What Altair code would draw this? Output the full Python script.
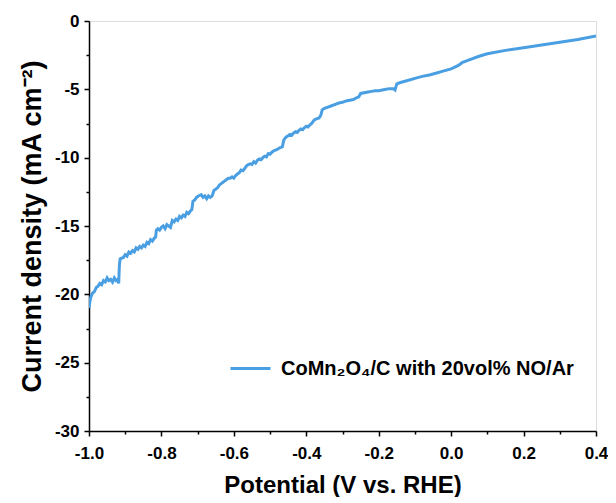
import altair as alt
import pandas as pd

potential = [
    -1.000, -0.998, -0.995, -0.990, -0.985, -0.980, -0.975, -0.970, -0.965, -0.960,
    -0.955, -0.950, -0.945, -0.940, -0.935, -0.930, -0.925, -0.920, -0.918, -0.916,
    -0.914, -0.905, -0.900, -0.895, -0.890, -0.885, -0.880, -0.875, -0.870, -0.865,
    -0.860, -0.855, -0.850, -0.845, -0.840, -0.835, -0.830, -0.825, -0.820, -0.816,
    -0.814, -0.810, -0.805, -0.800, -0.795, -0.790, -0.785, -0.780, -0.775, -0.770,
    -0.765, -0.760, -0.755, -0.750, -0.745, -0.740, -0.735, -0.730, -0.725, -0.720,
    -0.716, -0.713, -0.708, -0.703, -0.698, -0.690, -0.685, -0.680, -0.675, -0.670,
    -0.665, -0.660, -0.655, -0.650, -0.645, -0.640, -0.635, -0.630, -0.625, -0.620,
    -0.615, -0.610, -0.605, -0.600, -0.595, -0.590, -0.585, -0.580, -0.575, -0.570,
    -0.565, -0.560, -0.555, -0.550, -0.545, -0.540, -0.535, -0.530, -0.525, -0.520,
    -0.515, -0.510, -0.505, -0.500, -0.495, -0.490, -0.485, -0.480, -0.475, -0.470,
    -0.466, -0.462, -0.456, -0.450, -0.445, -0.440, -0.435, -0.430, -0.425, -0.420,
    -0.415, -0.410, -0.405, -0.400, -0.395, -0.390, -0.385, -0.380, -0.375, -0.370,
    -0.365, -0.360, -0.356, -0.350, -0.340, -0.330, -0.320, -0.310, -0.300, -0.290,
    -0.280, -0.270, -0.260, -0.255, -0.250, -0.240, -0.230, -0.220, -0.210, -0.200,
    -0.190, -0.180, -0.170, -0.160, -0.155, -0.150, -0.140, -0.120, -0.100, -0.080,
    -0.060, -0.040, -0.020, 0.000, 0.020, 0.030, 0.050, 0.075, 0.100, 0.150,
    0.200, 0.250, 0.300, 0.350, 0.400,
]
current = [
    -21.0, -20.6, -20.2, -19.9, -19.8, -19.5, -19.4, -19.2, -19.3, -19.0,
    -19.1, -18.8, -19.0, -18.9, -19.1, -18.8, -19.0, -18.9, -19.2, -17.8,
    -17.4, -17.3, -17.1, -17.2, -16.9, -17.0, -16.8, -16.9, -16.6, -16.7,
    -16.5, -16.6, -16.4, -16.5, -16.2, -16.3, -16.0, -16.1, -15.9, -15.8,
    -15.3, -15.2, -15.3, -15.1, -15.0, -15.2, -14.9, -15.0, -15.1, -14.6,
    -14.7, -14.5, -14.6, -14.3, -14.4, -14.2, -14.3, -14.0, -14.1, -13.9,
    -13.8, -13.2, -13.1, -12.9, -12.8, -12.7, -12.9, -12.8, -13.0, -12.8,
    -12.9, -12.8, -12.4, -12.3, -12.2, -12.0, -11.9, -11.8, -11.7, -11.6,
    -11.5, -11.5, -11.4, -11.5, -11.3, -11.2, -11.1, -10.9, -10.95, -10.8,
    -10.6, -10.5, -10.45, -10.5, -10.3, -10.4, -10.2, -10.1, -10.15, -10.0,
    -9.9, -9.95, -9.7, -9.75, -9.6, -9.5, -9.45, -9.4, -9.3, -9.25,
    -9.2, -8.7, -8.5, -8.4, -8.3, -8.35, -8.2, -8.1, -8.15, -8.0,
    -7.9, -7.95, -7.8, -7.7, -7.75, -7.6, -7.5, -7.3, -7.2, -7.15,
    -7.1, -6.9, -6.5, -6.4, -6.3, -6.2, -6.1, -6.0, -5.95, -5.85,
    -5.8, -5.75, -5.6, -5.55, -5.3, -5.25, -5.2, -5.15, -5.1, -5.1,
    -5.05, -5.0, -4.95, -4.95, -5.05, -4.6, -4.5, -4.35, -4.2, -4.05,
    -3.95, -3.8, -3.65, -3.5, -3.25, -3.05, -2.85, -2.6, -2.4, -2.15,
    -1.95, -1.75, -1.55, -1.35, -1.1,
]
series_name = "CoMn₂O₄/C with 20vol% NO/Ar"
x_major = [-1.0, -0.8, -0.6, -0.4, -0.2, 0.0, 0.2, 0.4]
x_minor = [-0.9, -0.7, -0.5, -0.3, -0.1, 0.1, 0.3]
y_major = [0, -5, -10, -15, -20, -25, -30]
y_minor = [-2.5, -7.5, -12.5, -17.5, -22.5, -27.5]

df = pd.DataFrame({"E": potential, "j": current, "s": [series_name] * len(potential)})

FONT = "Liberation Sans"
HYPHEN = "replace(datum.label, '\u2212', '-')"
xscale = alt.Scale(domain=[-1.0, 0.4], nice=False, zero=False)
yscale = alt.Scale(domain=[-30, 0], nice=False, zero=False)

main = alt.Chart(df).mark_line(strokeWidth=3, clip=True).encode(
    x=alt.X("E:Q", scale=xscale, axis=alt.Axis(
        values=x_major, format=".1f", labelExpr=HYPHEN, title="Potential (V vs. RHE)", orient="bottom",
        tickSize=5, tickWidth=1.5, tickColor="black", domainColor="black", domainWidth=1.5,
        labelFont=FONT, labelFontSize=17, labelFontWeight="bold", labelColor="black", labelPadding=9,
        labelFlush=False, labelOverlap=False,
        titleFont=FONT, titleFontSize=24, titleFontWeight="bold", titleColor="black", titlePadding=12,
        grid=False)),
    y=alt.Y("j:Q", scale=yscale, axis=alt.Axis(
        values=y_major, format="d", labelExpr=HYPHEN, title="Current density (mA cm⁻²)", orient="left",
        tickSize=5, tickWidth=1.5, tickColor="black", domainColor="black", domainWidth=1.5,
        labelFont=FONT, labelFontSize=17, labelFontWeight="bold", labelColor="black", labelPadding=5,
        labelFlush=False, labelOverlap=False,
        titleFont=FONT, titleFontSize=27, titleFontWeight="bold", titleColor="black", titlePadding=8,
        grid=False)),
    color=alt.Color("s:N", scale=alt.Scale(range=["#4A9FE3"]), legend=alt.Legend(
        title=None, orient="none", legendX=140, legendY=326, symbolType="stroke",
        symbolSize=1600, symbolStrokeWidth=3, labelFont=FONT, labelFontSize=20,
        labelFontWeight="bold", labelColor="black", labelLimit=500, labelOffset=9)),
)

minor = alt.Chart(df).mark_line(opacity=0).encode(
    x=alt.X("E:Q", scale=xscale, axis=alt.Axis(
        values=x_minor, labels=False, title=None, orient="bottom", domain=False,
        tickSize=3, tickWidth=1.5, tickColor="black", grid=False)),
    y=alt.Y("j:Q", scale=yscale, axis=alt.Axis(
        values=y_minor, labels=False, title=None, orient="left", domain=False,
        tickSize=3, tickWidth=1.5, tickColor="black", grid=False)),
)

chart = alt.layer(main, minor).resolve_axis(x="independent", y="independent").properties(
    width=507, height=410,
    autosize=alt.AutoSizeParams(type="none"),
    padding={"left": 81, "top": 13, "right": 12, "bottom": 66},
).configure_view(stroke="black", strokeWidth=1.5).configure(background="white")

chart.save("out.html", embed_options={"renderer": "svg", "actions": False})
